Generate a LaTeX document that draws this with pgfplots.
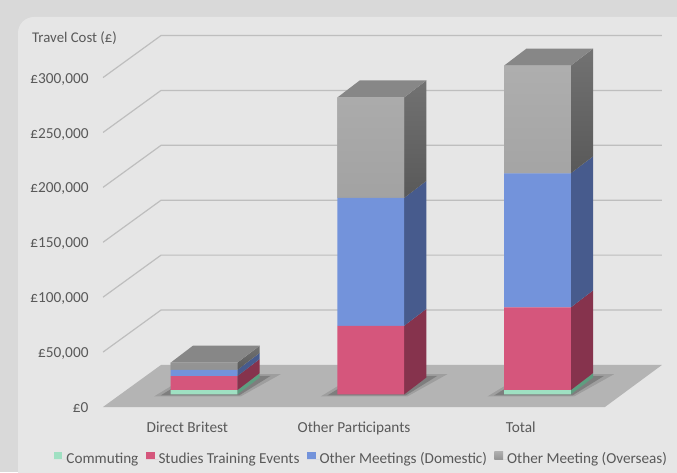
\documentclass[border=0pt]{standalone}
\usepackage{fontspec}
\setmainfont{Carlito}
\usepackage{pgfplots}
\pgfplotsset{compat=1.18}
\definecolor{txt}{HTML}{595959}
\definecolor{outerbg}{HTML}{D9D9D9}
\definecolor{chartbg}{HTML}{E6E6E6}
\definecolor{floorc}{HTML}{B4B4B4}
\definecolor{gridc}{HTML}{BEBEBE}
\definecolor{commf}{HTML}{9FE0C2}
\definecolor{comms}{HTML}{5E9E80}
\definecolor{studf}{HTML}{D5567C}
\definecolor{studs}{HTML}{86334D}
\definecolor{domf}{HTML}{7393DB}
\definecolor{doms}{HTML}{475B8D}
\definecolor{ovft}{HTML}{AEAEAE}
\definecolor{ovfb}{HTML}{939393}
\definecolor{ovst}{HTML}{727272}
\definecolor{ovsb}{HTML}{595959}
\definecolor{ovtop}{HTML}{878787}
\definecolor{ovleg}{HTML}{A5A5A5}
\pgfplotsset{
  geom/.style={
    at={(103pt,65pt)}, anchor=south west, scale only axis,
    width=558.95pt, height=374.86pt,
    xmin=-0.606, xmax=2.747, ymin=-11400, ymax=330000,
    enlargelimits=false,
  }
}
\begin{document}
\begin{tikzpicture}
\useasboundingbox (0pt,0pt) rectangle (677pt,472pt);
\clip (0pt,0pt) rectangle (677pt,472pt);
\fill[outerbg] (0pt,0pt) rectangle (677pt,472pt);
\fill[chartbg, rounded corners=16pt] (18pt,-40pt) rectangle (720pt,455pt);
\node[anchor=base west, font=\fontsize{14.8}{17}\selectfont, text=txt, inner sep=0pt] at (32pt,429.3pt) {Travel Cost (£)};

\begin{axis}[geom,
  axis line style={draw=none}, major tick length=0pt,
  scaled y ticks=false,
  xtick={-0.1,0.9,1.9},
  xticklabels={Direct Britest, Other Participants, Total},
  ytick={-11400,38600,88600,138600,188600,238600,288600},
  yticklabels={£0,{£50,000},{£100,000},{£150,000},{£200,000},{£250,000},{£300,000}},
  yticklabel style={anchor=base east, inner sep=0pt, xshift=-14.3pt, yshift=-5.6pt,
    font=\fontsize{15.3}{18}\selectfont, text=txt},
  xticklabel style={anchor=base, inner sep=0pt, yshift=-25.7pt,
    font=\fontsize{15.3}{18}\selectfont, text=txt},
]
% floor
\addplot[draw=none, fill=floorc] coordinates {(-0.606,-11400) (2.405,-11400) (2.747,26900) (-0.258,26900)} -- cycle;
% gridlines (left wall diagonal + back wall)
\addplot[gridc, line width=1.2pt] coordinates {(-0.606,38600) (-0.258,76900) (2.747,76900)};
\addplot[gridc, line width=1.2pt] coordinates {(-0.606,88600) (-0.258,126900) (2.747,126900)};
\addplot[gridc, line width=1.2pt] coordinates {(-0.606,138600) (-0.258,176900) (2.747,176900)};
\addplot[gridc, line width=1.2pt] coordinates {(-0.606,188600) (-0.258,226900) (2.747,226900)};
\addplot[gridc, line width=1.2pt] coordinates {(-0.606,238600) (-0.258,276900) (2.747,276900)};
\addplot[gridc, line width=1.2pt] coordinates {(-0.606,288600) (-0.258,326900) (2.747,326900)};
% shadows
\addplot[draw=none, fill=black, fill opacity=0.12] coordinates {(-0.30,-1800) (0.22,-1800) (0.46,18500) (-0.08,18500)} -- cycle;
\addplot[draw=none, fill=black, fill opacity=0.2] coordinates {(-0.26,-900) (0.21,-900) (0.40,17000) (-0.07,17000)} -- cycle;
\addplot[draw=none, fill=black, fill opacity=0.12] coordinates {(0.70,-1800) (1.22,-1800) (1.46,18500) (0.92,18500)} -- cycle;
\addplot[draw=none, fill=black, fill opacity=0.2] coordinates {(0.74,-900) (1.21,-900) (1.40,17000) (0.93,17000)} -- cycle;
\addplot[draw=none, fill=black, fill opacity=0.12] coordinates {(1.70,-1800) (2.22,-1800) (2.46,18500) (1.92,18500)} -- cycle;
\addplot[draw=none, fill=black, fill opacity=0.2] coordinates {(1.74,-900) (2.21,-900) (2.40,17000) (1.93,17000)} -- cycle;
% side faces: Direct Britest
\addplot[draw=none, fill=comms] coordinates {(0.2,0) (0.334,15500) (0.334,19500) (0.2,4000)} -- cycle;
\addplot[draw=none, fill=studs] coordinates {(0.2,4000) (0.334,19500) (0.334,32300) (0.2,16800)} -- cycle;
\addplot[draw=none, fill=doms] coordinates {(0.2,16800) (0.334,32300) (0.334,37900) (0.2,22400)} -- cycle;
\addplot[draw=none, top color=ovst, bottom color=ovsb] coordinates {(0.2,22400) (0.334,37900) (0.334,44500) (0.2,29000)} -- cycle;
\addplot[draw=none, fill=ovtop] coordinates {(-0.2,29000) (0.2,29000) (0.334,44500) (-0.066,44500)} -- cycle;
% side faces: Other Participants
\addplot[draw=none, fill=studs] coordinates {(1.2,0) (1.334,15500) (1.334,78000) (1.2,62500)} -- cycle;
\addplot[draw=none, fill=doms] coordinates {(1.2,62500) (1.334,78000) (1.334,194500) (1.2,179000)} -- cycle;
\addplot[draw=none, top color=ovst, bottom color=ovsb] coordinates {(1.2,179000) (1.334,194500) (1.334,286000) (1.2,270500)} -- cycle;
\addplot[draw=none, fill=ovtop] coordinates {(0.8,270500) (1.2,270500) (1.334,286000) (0.934,286000)} -- cycle;
% side faces: Total
\addplot[draw=none, fill=comms] coordinates {(2.2,0) (2.334,15500) (2.334,19500) (2.2,4000)} -- cycle;
\addplot[draw=none, fill=studs] coordinates {(2.2,4000) (2.334,19500) (2.334,94800) (2.2,79300)} -- cycle;
\addplot[draw=none, fill=doms] coordinates {(2.2,79300) (2.334,94800) (2.334,216900) (2.2,201400)} -- cycle;
\addplot[draw=none, top color=ovst, bottom color=ovsb] coordinates {(2.2,201400) (2.334,216900) (2.334,315000) (2.2,299500)} -- cycle;
\addplot[draw=none, fill=ovtop] coordinates {(1.8,299500) (2.2,299500) (2.334,315000) (1.934,315000)} -- cycle;
\end{axis}

\begin{axis}[geom, hide axis,
  ybar stacked, bar width=0.4,
  legend columns=4,
  legend style={at={(-0.0939,-0.1374)}, anchor=west, draw=none, fill=none,
    font=\fontsize{15.2}{18}\selectfont, text=txt,
    nodes={inner sep=0pt},
    /tikz/every even column/.append style={column sep=7.4pt}},
  legend image code/.code={\fill[#1] (0pt,-0.2pt) rectangle (8.7pt,7.3pt); \path (0pt,0pt) -- (12.7pt,0pt);},
]
\addplot[draw=none, fill=commf] coordinates {(0,4000) (1,0) (2,4000)};
\addplot[draw=none, fill=studf] coordinates {(0,12800) (1,62500) (2,75300)};
\addplot[draw=none, fill=domf] coordinates {(0,5600) (1,116500) (2,122100)};
\addplot[draw=none, fill=ovleg, top color=ovft, bottom color=ovfb] coordinates {(0,6600) (1,91500) (2,98100)};
\legend{Commuting, Studies Training Events, Other Meetings (Domestic), Other Meeting (Overseas)}
\end{axis}
\end{tikzpicture}
\end{document}
